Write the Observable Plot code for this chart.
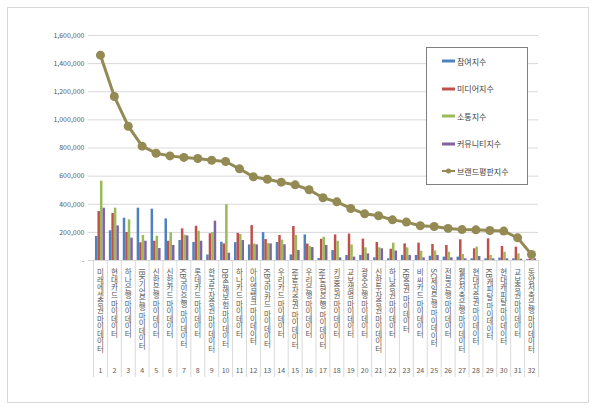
<!DOCTYPE html>
<html><head><meta charset="utf-8">
<script src="https://cdn.jsdelivr.net/npm/d3@7"></script>
<script src="https://cdn.jsdelivr.net/npm/@observablehq/plot@0.6"></script>
<style>
body{margin:0;background:#fff;font-family:'Noto Sans CJK KR',sans-serif;}
#wrap{position:relative;width:600px;height:409px;overflow:hidden;background:#fff;}
#wrap svg{position:absolute;left:0;top:0;}
#frame{position:absolute;left:7px;top:7px;width:580px;height:394px;border:1px solid #d9d9d9;pointer-events:none;}
#legend{position:absolute;left:426px;top:47px;width:100px;height:136px;border:1px solid #7f7f7f;background:#fff;}
.li{position:absolute;left:15px;height:12px;display:flex;align-items:center;font-size:8px;color:#404040;white-space:nowrap;}
.li svg{position:static !important;margin-right:2px;}
text.vt{writing-mode:vertical-rl;text-orientation:mixed;}
</style></head>
<body><div id="wrap"><div id="frame"></div></div>
<script>
const names = ["미래에셋증권 마이데이터","현대카드 마이데이터","하나은행 마이데이터","IBK기업은행 마이데이터","신한은행 마이데이터","신한카드 마이데이터","KB국민은행 마이데이터","롯데카드 마이데이터","한국투자증권 마이데이터","DB손해보험 마이데이터","하나카드 마이데이터","아이엠뱅크 마이데이터","KB국민카드 마이데이터","우리카드 마이데이터","NH투자증권 마이데이터","우리은행 마이데이터","NH농협은행 마이데이터","키움증권 마이데이터","교보생명 마이데이터","광주은행 마이데이터","신한투자증권 마이데이터","하나증권 마이데이터","KB증권 마이데이터","비씨카드 마이데이터","SC제일은행 마이데이터","전북은행 마이데이터","웰컴저축은행 마이데이터","현대차증권 마이데이터","KB캐피탈 마이데이터","현대캐피탈 마이데이터","교보증권 마이데이터","동양저축은행 마이데이터"];
const ranks = [1,2,3,4,5,6,7,8,9,10,11,12,13,14,15,16,17,18,19,20,21,22,23,24,25,26,27,28,29,30,31,32];
const participation = [171000,211000,301000,372000,365000,296000,142000,128000,39000,130000,127000,111000,198000,128000,40000,182000,14000,71000,36000,36000,19000,12000,36000,36000,30000,24000,24000,12000,12000,17000,12000,5000];
const media = [348000,334000,199000,126000,137000,137000,225000,244000,190000,118000,193000,248000,149000,178000,242000,117000,151000,182000,188000,152000,128000,80000,118000,123000,114000,107000,147000,83000,154000,100000,95000,10000];
const communication = [564000,372000,289000,178000,173000,197000,180000,208000,199000,397000,185000,117000,120000,145000,178000,100000,165000,137000,111000,90000,90000,123000,90000,66000,68000,59000,43000,95000,36000,59000,47000,8000];
const community = [372000,246000,159000,137000,85000,107000,175000,137000,280000,52000,142000,111000,118000,112000,71000,92000,107000,19000,24000,47000,83000,68000,36000,19000,36000,19000,12000,28000,12000,12000,9000,12000];
const brand = [1460000,1166000,955000,813000,763000,744000,733000,725000,713000,704000,652000,595000,578000,557000,538000,503000,446000,417000,370000,332000,318000,289000,273000,247000,242000,228000,220000,218000,213000,209000,161000,43000];
const yTicks = [0,200000,400000,600000,800000,1000000,1200000,1400000,1600000];
const seriesNames = ["참여지수","미디어지수","소통지수","커뮤니티지수","브랜드평판지수"];
const colors = ["#4F81BD","#C0504D","#9BBB59","#8064A2","#948A54"];

const rows = names.map((n,i)=>({name:n, rank:ranks[i], p:participation[i], m:media[i], c:communication[i], u:community[i], b:brand[i]}));

const W=600,H=409,mL=93,mR=62,mT=35,mB=149;
const bw=(W-mL-mR)/names.length;
const gw=10, st=(bw-gw)/2, bwid=gw/4;
const keys=["p","m","c","u"];
const font="'Noto Sans CJK KR', sans-serif";

const bars = keys.map((k,j)=>Plot.barY(rows,{x:"name",y:k,fill:colors[j],insetLeft:st+bwid*j,insetRight:bw-(st+bwid*(j+1))}));

const plot = Plot.plot({
  width:W,height:H,marginLeft:mL,marginRight:mR,marginTop:mT,marginBottom:mB,
  style:{fontFamily:font,background:"transparent",overflow:"visible"},
  x:{type:"band",domain:names,paddingInner:0,paddingOuter:0,round:false,axis:null},
  y:{domain:[0,1600000],axis:null},
  marks:[
    Plot.ruleY(yTicks,{stroke:"#d9d9d9",strokeWidth:1,insetLeft:-5}),
    Plot.ruleX(rows,{x:"name",dx:-bw/2,stroke:"#d9d9d9",insetTop:H-mT-mB,insetBottom:-117}),
    Plot.ruleX(rows.slice(-1),{x:"name",dx:bw/2,stroke:"#d9d9d9",insetTop:H-mT-mB,insetBottom:-117}),
    Plot.axisY({ticks:yTicks,tickSize:0,tickPadding:9,fontSize:7,color:"#595959",label:null,tickFormat:d=>d===0?"-":d3.format(",")(d)}),
    ...bars,
    Plot.line(rows,{x:"name",y:"b",stroke:colors[4],strokeWidth:3}),
    Plot.dot(rows,{x:"name",y:"b",r:4.5,fill:colors[4],stroke:null}),
    Plot.text(rows,{x:"name",text:"name",frameAnchor:"bottom",dy:8,textAnchor:"start",fontSize:7.5,fill:"#595959",fontFamily:font}),
    Plot.text(rows,{x:"name",text:"rank",frameAnchor:"bottom",dy:112,fontSize:7,fill:"#595959",fontFamily:font})
  ]
});
const nameSet = new Set(names);
d3.select(plot).selectAll("text").filter(function(){return nameSet.has(this.textContent);})
  .classed("vt",true)
  .attr("writing-mode","tb")
  .attr("dy",null)
  .each(function(){ this.style.writingMode="vertical-rl"; this.style.textOrientation="mixed"; });
document.getElementById("wrap").appendChild(plot);

// legend
const lg=d3.select("#wrap").append("div").attr("id","legend");
seriesNames.forEach((s,i)=>{
  const cy=61+27.5*i-47-1;
  const it=lg.append("div").attr("class","li").style("top",(cy-6)+"px");
  const sv=it.append("svg").attr("width",13).attr("height",8);
  if(i<4){ sv.append("rect").attr("x",0).attr("y",2.5).attr("width",13).attr("height",3).attr("fill",colors[i]); }
  else { sv.append("line").attr("x1",0).attr("x2",13).attr("y1",4).attr("y2",4).attr("stroke",colors[4]).attr("stroke-width",2);
         sv.append("circle").attr("cx",6.5).attr("cy",4).attr("r",2.5).attr("fill",colors[4]); }
  it.append("span").text(s);
});
</script>
</body></html>
